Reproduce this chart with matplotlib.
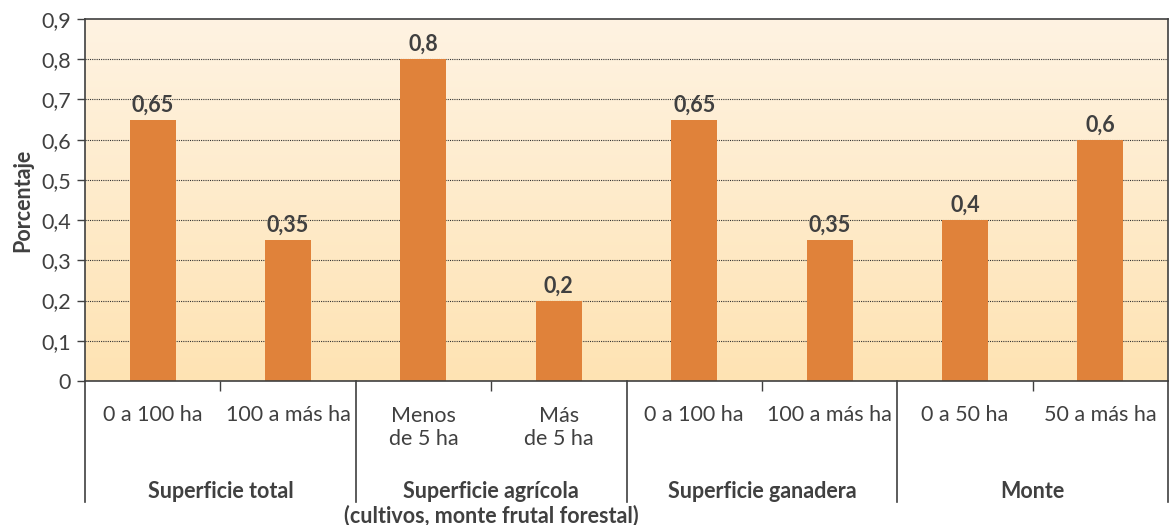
import numpy as np
import matplotlib
matplotlib.use('Agg')
import matplotlib.pyplot as plt
from matplotlib.colors import LinearSegmentedColormap

plt.rcParams['font.family'] = ['Lato', 'DejaVu Sans']

# datos
subcats = ['0 a 100 ha', '100 a más ha', 'Menos\nde 5 ha', 'Más\nde 5 ha',
           '0 a 100 ha', '100 a más ha', '0 a 50 ha', '50 a más ha']
valores = [0.65, 0.35, 0.8, 0.2, 0.65, 0.35, 0.4, 0.6]
etiquetas = ['0,65', '0,35', '0,8', '0,2', '0,65', '0,35', '0,4', '0,6']
grupos = ['Superficie total', 'Superficie agrícola\n(cultivos, monte frutal forestal)',
          'Superficie ganadera', 'Monte']
yticks = [0, 0.1, 0.2, 0.3, 0.4, 0.5, 0.6, 0.7, 0.8, 0.9]

gris = '#404040'
naranja = '#E0823A'
fs = 15.5

fig = plt.figure(figsize=(11.74, 5.25), dpi=100)
ax = fig.add_axes([85/1174, 1 - 381/525, (1168 - 85)/1174, (381 - 19)/525])

x = np.arange(len(valores))
ax.set_xlim(-0.5, len(valores) - 0.5)
ax.set_ylim(0, 0.9)

# fondo degradado
cmap = LinearSegmentedColormap.from_list('fondo', ['#FFE3B3', '#FEF3E2'])
grad = np.linspace(0, 1, 256).reshape(-1, 1)
ax.imshow(grad, cmap=cmap, origin='lower', aspect='auto',
          extent=(-0.5, len(valores) - 0.5, 0, 0.9), zorder=0)

# cuadrícula
for yv in yticks[1:-1]:
    ax.axhline(yv, color='#333333', lw=0.8, ls=(0, (1, 1)), zorder=1)

ax.bar(x, valores, width=0.34, color=naranja, zorder=2)
for xi, v, t in zip(x, valores, etiquetas):
    ax.text(xi, v + 0.01, t, ha='center', va='bottom', fontsize=fs,
            fontweight='bold', color=gris)

ax.set_yticks(yticks)
ax.set_yticklabels([str(v).replace('.', ',') if v else '0' for v in yticks],
                   fontsize=fs, color=gris)
ax.tick_params(axis='y', length=6, width=1, color=gris, pad=4)
ax.set_xticks([0.5, 2.5, 4.5, 6.5])
ax.set_xticklabels([])
ax.tick_params(axis='x', length=7, width=1, color=gris)
ax.set_ylabel('Porcentaje', fontsize=fs, fontweight='bold', color=gris, labelpad=6)

for s in ax.spines.values():
    s.set_color(gris)
    s.set_linewidth(1.2)

tr = ax.get_xaxis_transform()
# etiquetas de subcategoría
for xi, lab in zip(x, subcats):
    yy = -0.129 if '\n' in lab else -0.094
    ax.text(xi, yy, lab, transform=tr, ha='center', va='center', fontsize=fs,
            color=gris, linespacing=1.2)

# separadores de grupo
for xb in [-0.5, 1.5, 3.5, 5.5, 7.5]:
    ax.plot([xb, xb], [0, -0.334], transform=tr, color=gris, lw=1.2,
            clip_on=False)

# etiquetas de grupo
for i, g in enumerate(grupos):
    xc = 2 * i + 0.5
    yy = -0.339 if '\n' in g else -0.304
    ax.text(xc, yy, g, transform=tr, ha='center', va='center', fontsize=fs,
            fontweight='bold', color=gris, linespacing=1.2)

fig.savefig('out.png', dpi=100)
